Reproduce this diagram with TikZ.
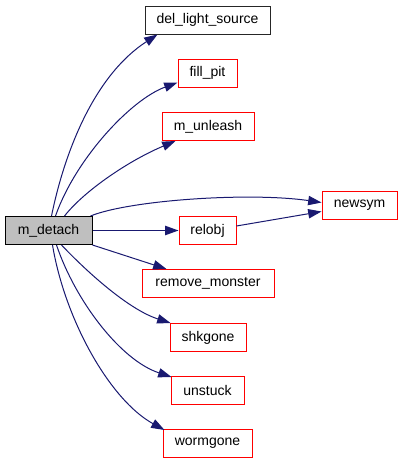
\documentclass[tikz,border=0pt]{standalone}
\usepackage{fontspec}
\setmainfont{Liberation Sans}
\usetikzlibrary{arrows.meta,calc}
\definecolor{edgeblue}{HTML}{191970}
\definecolor{boxgray}{HTML}{BFBFBF}
\begin{document}
\begin{tikzpicture}[x=0.75pt,y=-0.75pt,
  box/.style={draw=red,line width=0.75pt,fill=white,inner sep=0pt,minimum height=21pt,
    font=\fontsize{10.5}{12}\selectfont},
  blackbox/.style={box,draw=black!85},
  rootbox/.style={box,draw=black,fill=boxgray},
  edge/.style={draw=edgeblue,line width=0.75pt,-{Triangle[length=10pt,width=7pt]}}]
\useasboundingbox (0,0) rectangle (403,464);
\node[blackbox,minimum width=93.75pt] (dls) at (207.5,20) {del\_light\_source};
\node[box,minimum width=44.25pt] (fp) at (207.5,73) {fill\_pit};
\node[box,minimum width=69pt] (mu) at (208,126.5) {m\_unleash};
\node[box,minimum width=56.25pt] (ns) at (359.5,205) {newsym};
\node[box,minimum width=42.75pt] (ro) at (207.5,230.5) {relobj};
\node[rootbox,minimum width=65.25pt] (md) at (48.5,230.5) {m\_detach};
\node[box,minimum width=99pt] (rm) at (208,283.5) {remove\_monster};
\node[box,minimum width=57pt] (sk) at (208,337.5) {shkgone};
\node[box,minimum width=54.75pt] (us) at (207.5,390.5) {unstuck};
\node[box,minimum width=66.75pt] (wg) at (207.5,443.5) {wormgone};

\draw[edge] ($(md.north west)+(47,0)$) .. controls (65,150) and (95,75) .. ($(dls.south west)+(13,0)$);
\draw[edge] ($(md.north west)+(51,0)$) .. controls (75,160) and (130,100) .. ($(fp.south west)+(0,-5)$);
\draw[edge] ($(md.north west)+(60,0)$) .. controls (85,190) and (130,160) .. ($(mu.south west)+(14,0)$);
\draw[edge] ($(md.north east)+(-2,0)$) .. controls (130,200) and (250,192) .. ($(ns.west)+(0,-2.5)$);
\draw[edge] ($(ro.east)+(0,-4.5)$) -- ($(ns.west)+(0,6.5)$);
\draw[edge] (md.east) -- (ro.west);
\draw[edge] (md.south east) -- ($(rm.north west)+(25,0)$);
\draw[edge] ($(md.south west)+(57,0)$) .. controls (90,275) and (130,310) .. ($(sk.north west)+(1,0)$);
\draw[edge] ($(md.south west)+(52,0)$) .. controls (75,300) and (120,360) .. ($(us.north west)+(1,1)$);
\draw[edge] ($(md.south west)+(48,0)$) .. controls (65,320) and (110,400) .. ($(wg.north west)+(2,1)$);
\end{tikzpicture}
\end{document}
